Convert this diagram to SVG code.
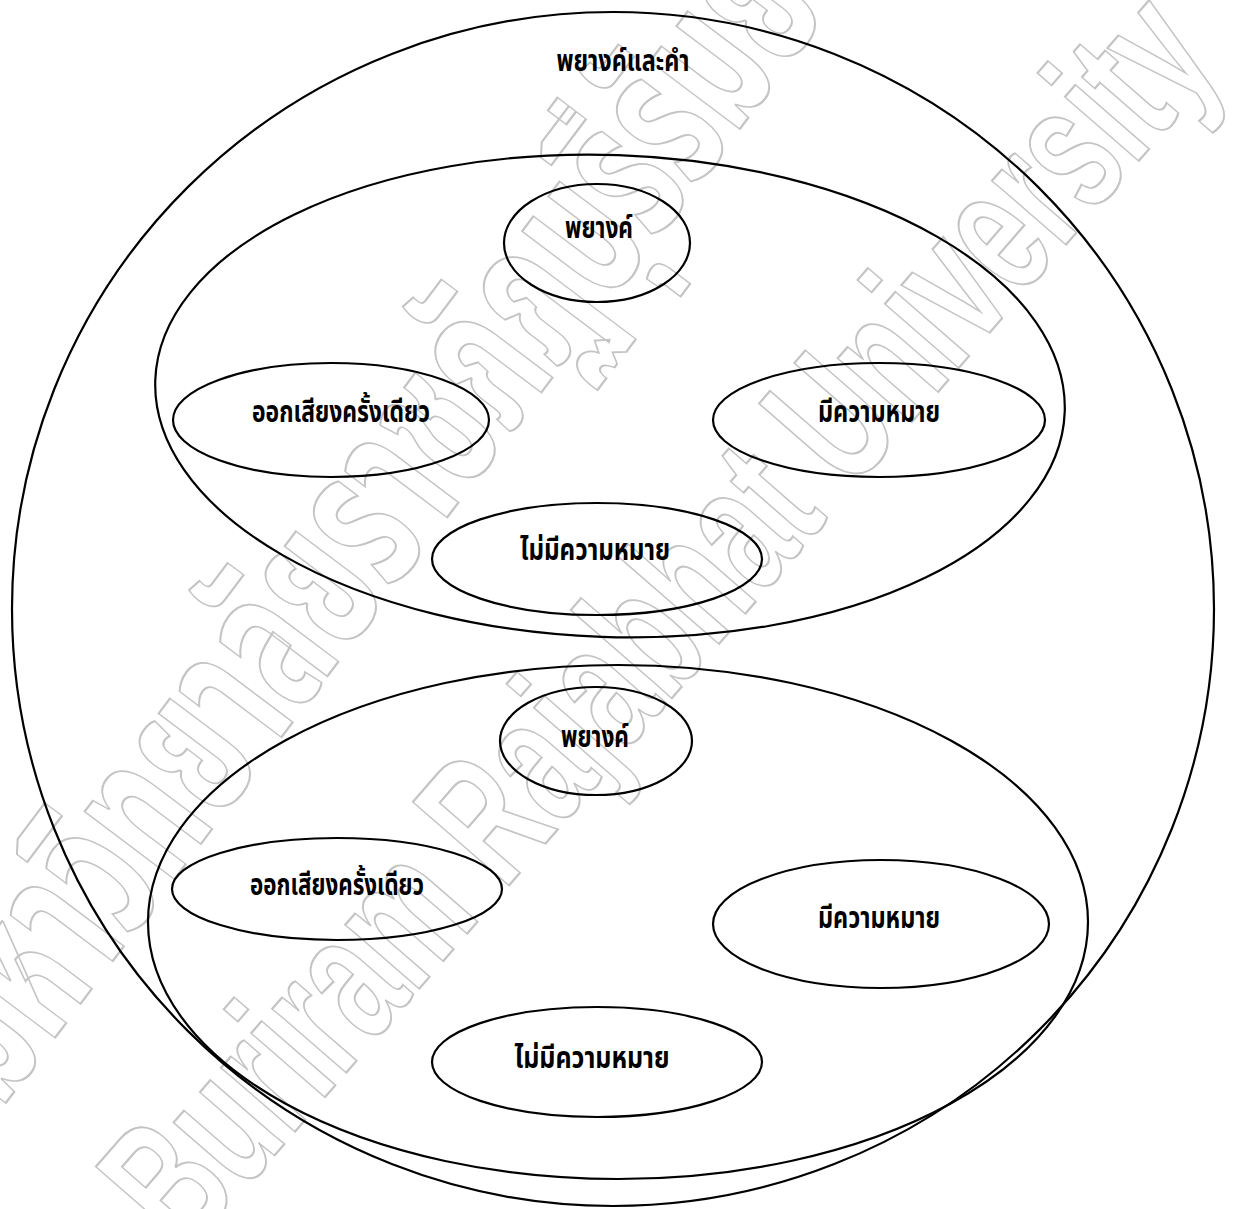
<svg xmlns="http://www.w3.org/2000/svg" width="1240" height="1209" viewBox="0 0 1240 1209">
<style>
.s{fill:none;stroke:#000;stroke-width:2.2}
.t{font-family:"Noto Sans Thai","Noto Sans","DejaVu Sans",sans-serif;font-weight:bold;font-size:30px;fill:#000;text-anchor:middle}
.wm{font-family:"Liberation Sans Narrow","Liberation Sans","Noto Sans Thai",sans-serif;font-weight:bold;font-size:185px;fill:none;stroke:#c4c4c4;stroke-width:2.2;text-anchor:middle}
</style>
<rect width="1240" height="1209" fill="#fff"/>
<g id="watermark">
<text class="wm" transform="translate(415,560) rotate(-53)" textLength="1380" lengthAdjust="spacingAndGlyphs" style="font-size:205px">มหาวิทยาลัยราชภัฏบุรีรัมย์</text>
<text class="wm" transform="translate(705,660) rotate(-49)" textLength="1580" lengthAdjust="spacingAndGlyphs">Buriram Rajabhat University</text>
</g>
<g id="outer"><ellipse class="s" cx="613" cy="609" rx="601" ry="597"/><text class="t" x="623" y="71" textLength="133" lengthAdjust="spacingAndGlyphs">พยางค์และคำ</text></g>
<g id="upper"><ellipse class="s" cx="610" cy="396" rx="455" ry="241" transform="rotate(2 610 396)"/></g>
<g id="lower"><ellipse class="s" cx="618" cy="922" rx="470" ry="257"/></g>
<g id="u-syl"><ellipse class="s" cx="597" cy="243" rx="93" ry="59"/><text class="t" x="599" y="238" textLength="68" lengthAdjust="spacingAndGlyphs">พยางค์</text></g>
<g id="u-one"><ellipse class="s" cx="331" cy="420" rx="158" ry="57"/><text class="t" x="341" y="422" textLength="178" lengthAdjust="spacingAndGlyphs">ออกเสียงครั้งเดียว</text></g>
<g id="u-mean"><ellipse class="s" cx="879" cy="420" rx="166" ry="57"/><text class="t" x="879" y="422" textLength="122" lengthAdjust="spacingAndGlyphs">มีความหมาย</text></g>
<g id="u-nomean"><ellipse class="s" cx="597" cy="559" rx="165" ry="56"/><text class="t" x="595" y="560" textLength="150" lengthAdjust="spacingAndGlyphs">ไม่มีความหมาย</text></g>
<g id="l-syl"><ellipse class="s" cx="596" cy="741" rx="96" ry="54"/><text class="t" x="595" y="747" textLength="68" lengthAdjust="spacingAndGlyphs">พยางค์</text></g>
<g id="l-one"><ellipse class="s" cx="337" cy="889" rx="165" ry="51"/><text class="t" x="337" y="895" textLength="174" lengthAdjust="spacingAndGlyphs">ออกเสียงครั้งเดียว</text></g>
<g id="l-mean"><ellipse class="s" cx="881" cy="924" rx="168" ry="64"/><text class="t" x="879" y="928" textLength="122" lengthAdjust="spacingAndGlyphs">มีความหมาย</text></g>
<g id="l-nomean"><ellipse class="s" cx="597" cy="1062" rx="165" ry="55"/><text class="t" x="592" y="1068" textLength="155" lengthAdjust="spacingAndGlyphs">ไม่มีความหมาย</text></g>
<g id="connectors"/>
</svg>
